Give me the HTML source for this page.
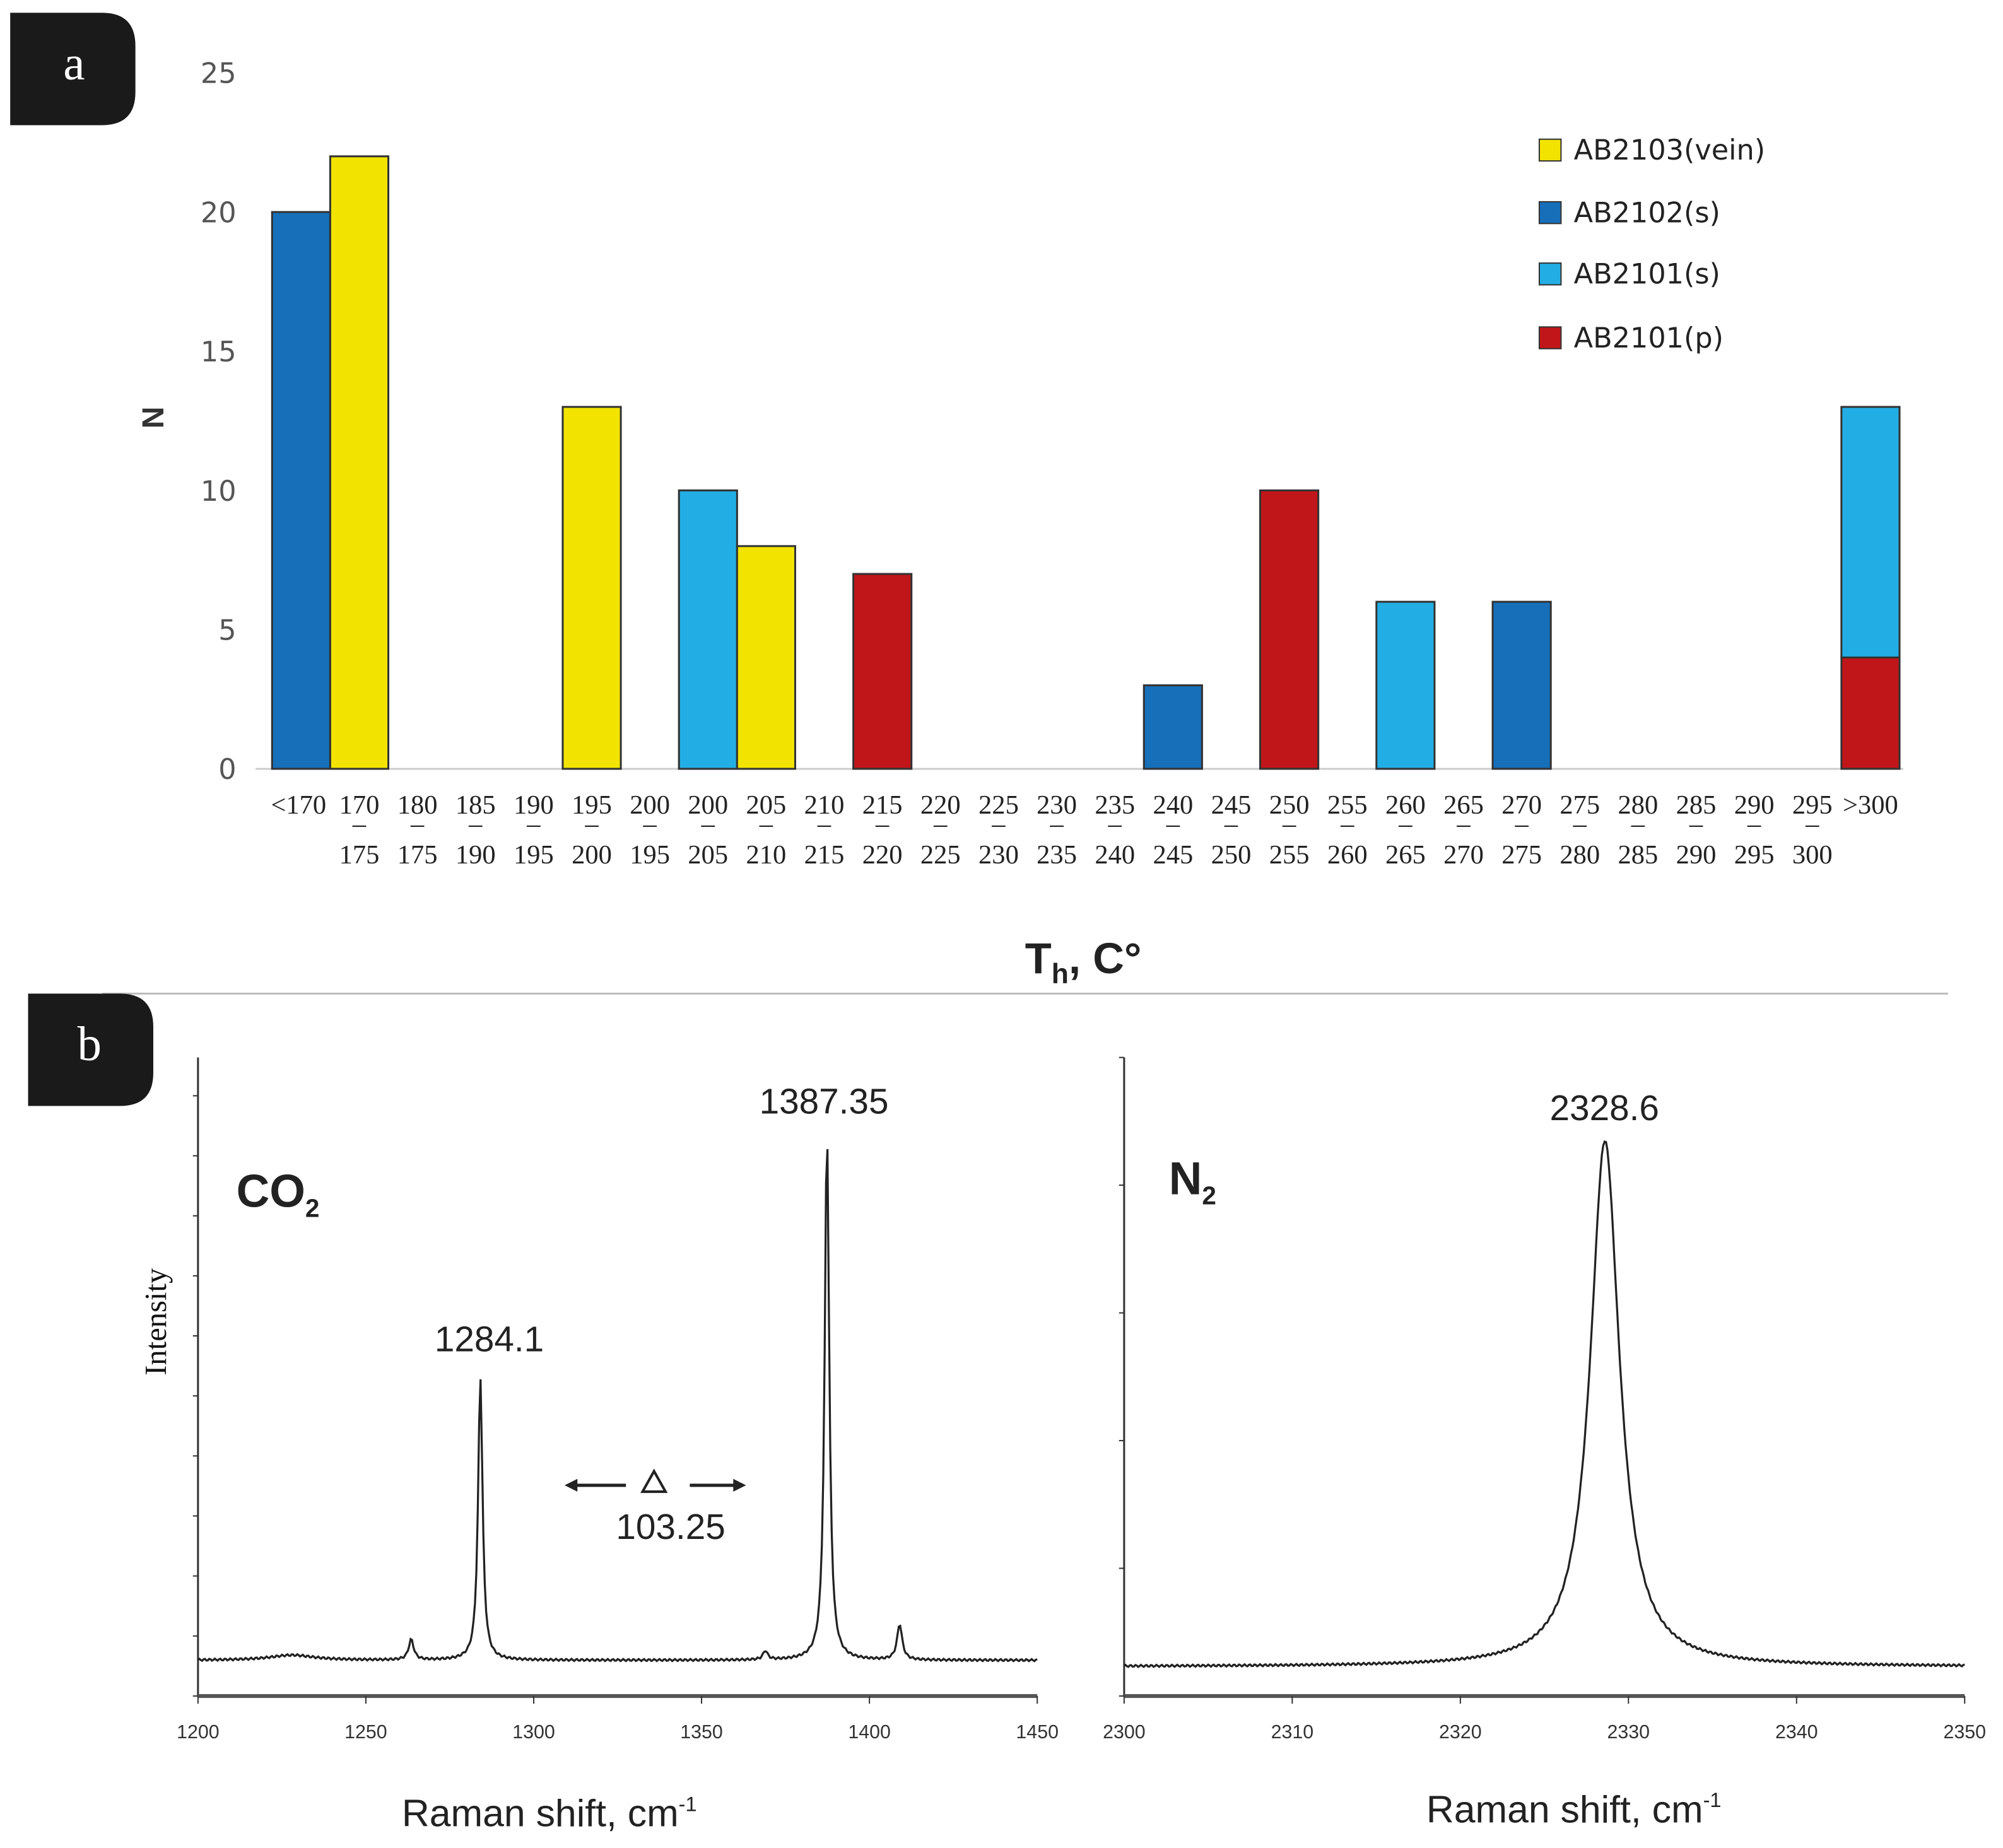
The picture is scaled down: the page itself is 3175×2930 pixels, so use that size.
<!DOCTYPE html>
<html><head><meta charset="utf-8"><style>html,body{margin:0;padding:0;background:#fff}svg{display:block}</style></head>
<body>
<svg id="fig" xmlns="http://www.w3.org/2000/svg" width="3175" height="2930" viewBox="0 0 1568 1447">
<rect width="1568" height="1447" fill="#fff"/>
<g><path d="M8 10 H80 Q106 10 106 36 V72 Q106 98 80 98 H8 Z" fill="#1a1a1a"/><text x="58" y="62" font-family="Liberation Serif,serif" font-size="38" fill="#fff" text-anchor="middle">a</text></g>
<g id="chartA"></g>
<g font-family="DejaVu Sans,sans-serif" font-size="22" fill="#222">
<g><rect x="1205" y="109" width="17" height="17" fill="#f2e400" stroke="#333"/><text x="1232" y="125">AB2103(vein)</text></g>
<g><rect x="1205" y="158" width="17" height="17" fill="#176fb9" stroke="#333"/><text x="1232" y="174">AB2102(s)</text></g>
<g><rect x="1205" y="206" width="17" height="17" fill="#22aee4" stroke="#333"/><text x="1232" y="222">AB2101(s)</text></g>
<g><rect x="1205" y="256" width="17" height="17" fill="#c0161a" stroke="#333"/><text x="1232" y="272">AB2101(p)</text></g>
</g>
<text transform="translate(128,327) rotate(-90)" text-anchor="middle" font-family="Liberation Sans,sans-serif" font-weight="bold" font-size="24" fill="#333">N</text>
<text x="848" y="762" text-anchor="middle" font-family="Liberation Sans,sans-serif" font-weight="bold" font-size="34" fill="#222">T<tspan font-size="22" dy="8">h</tspan><tspan dy="-8">, C°</tspan></text>
<line x1="80" y1="778" x2="1525" y2="778" stroke="#bbb" stroke-width="1.5"/>
<g><path d="M22 778 H94 Q120 778 120 804 V840 Q120 866 94 866 H22 Z" fill="#1a1a1a"/><text x="70" y="830" font-family="Liberation Serif,serif" font-size="38" fill="#fff" text-anchor="middle">b</text></g>
<text transform="translate(130,1035) rotate(-90)" text-anchor="middle" font-family="Liberation Serif,serif" font-size="24" fill="#111">Intensity</text>
<g id="chartB"></g>
<g id="chartC"></g>
<script>
const categories=["<170","170|175","180|175","185|190","190|195","195|200","200|195","200|205","205|210","210|215","215|220","220|225","225|230","230|235","235|240","240|245","245|250","250|255","255|260","260|265","265|270","270|275","275|280","280|285","285|290","290|295","295|300",">300"];
const vein  =[0,22,0,0,0,13,0,0,8,0,0,0,0,0,0,0,0,0,0,0,0,0,0,0,0,0,0,0];
const ab2102s=[20,0,0,0,0,0,0,0,0,0,0,0,0,0,0,3,0,0,0,0,0,6,0,0,0,0,0,0];
const ab2101s=[0,0,0,0,0,0,0,10,0,0,0,0,0,0,0,0,0,0,0,6,0,0,0,0,0,0,0,9];
const ab2101p=[0,0,0,0,0,0,0,0,0,0,7,0,0,0,0,0,0,10,0,0,0,0,0,0,0,0,0,4];
const yTicks=[0,5,10,15,20,25];
const co2Peaks=[[1263.5,16],[1284.1,222],[1369,7],[1387.35,415],[1409,28],[1228,4]];
const co2Widths=[0.9,0.8,0.8,0.8,0.9,8];
const co2Ticks=[1200,1250,1300,1350,1400,1450];
const n2Peaks=[[2328.6,412]];
const n2Widths=[1.05];
const n2Ticks=[2300,2310,2320,2330,2340,2350];
const NS="http://www.w3.org/2000/svg";
function mk(p,t,a,txt){const e=document.createElementNS(NS,t);for(const k in a)e.setAttribute(k,a[k]);if(txt!=null)e.textContent=txt;p.appendChild(e);return e;}
const A=document.getElementById('chartA');
const x0=213,slot=45.5;const ya=v=>602-v*21.8;
yTicks.forEach(t=>{const e=mk(A,'text',{x:185,y:ya(t)+8,'text-anchor':'end','font-family':'DejaVu Sans,sans-serif','font-size':22,fill:'#555'},String(t));

});
const base=mk(A,'line',{x1:200,y1:602,x2:1490,y2:602,stroke:'#ccc','stroke-width':1.5});


const series=[[ab2101p,'#c0161a'],[ab2101s,'#22aee4'],[ab2102s,'#176fb9'],[vein,'#f2e400']];
categories.forEach((c,i)=>{let acc=0;series.forEach(([arr,col])=>{const v=arr[i];if(!v)return;
const r=mk(A,'rect',{x:x0+i*slot,y:ya(acc+v),width:slot,height:v*21.8,fill:col,stroke:'#333','stroke-width':1.5});

acc+=v;});
const cx=x0+i*slot+slot/2+(i==0?-2:0);const parts=c.split('|');
const t1=mk(A,'text',{x:cx,y:637,'text-anchor':'middle','font-family':'Liberation Serif,serif','font-size':21,fill:'#222'},parts[0]);


if(parts[1]){mk(A,'text',{x:cx,y:652,'text-anchor':'middle','font-family':'Liberation Serif,serif','font-size':21,fill:'#222'},'–');
const t2=mk(A,'text',{x:cx,y:676,'text-anchor':'middle','font-family':'Liberation Serif,serif','font-size':21,fill:'#222'},parts[1]);

}});
function spectrum(G,peaks,widths,ticks,ax){
const {x1,x2,top,bot,baseY,minor}=ax;const xmin=ticks[0],xmax=ticks[ticks.length-1];
const sx=v=>x1+(v-xmin)/(xmax-xmin)*(x2-x1);
mk(G,'line',{x1:x1,y1:top,x2:x1,y2:bot,stroke:'#333','stroke-width':1.5});
mk(G,'line',{x1:x1,y1:bot,x2:x2,y2:bot,stroke:'#555','stroke-width':3});
for(let y=bot;y>=top;y-=minor)mk(G,'line',{x1:x1,y1:y,x2:x1-4,y2:y,stroke:'#333'});
ticks.forEach(t=>{mk(G,'line',{x1:sx(t),y1:bot,x2:sx(t),y2:bot+6,stroke:'#333'});
const e=mk(G,'text',{x:sx(t),y:bot+33,'text-anchor':'middle','font-family':'Liberation Sans,sans-serif','font-size':15,fill:'#333'},String(t));

});
let d='';const N=600;for(let k=0;k<=N;k++){const v=xmin+(xmax-xmin)*k/N;let h=0;
peaks.forEach((p,j)=>{const w=widths[j];h+=p[1]/(1+((v-p[0])/w)**2);});
h+=Math.sin(k*1.7)*0.8;d+=(k?'L':'M')+sx(v).toFixed(2)+' '+(baseY-h).toFixed(2);}
const p=mk(G,'path',{d:d,fill:'none',stroke:'#222','stroke-width':1.6});


return sx;}
const B=document.getElementById('chartB');
spectrum(B,co2Peaks,co2Widths,co2Ticks,{x1:155,x2:812,top:828,bot:1328,baseY:1300,minor:47});
const C=document.getElementById('chartC');
spectrum(C,n2Peaks,n2Widths,n2Ticks,{x1:880,x2:1538,top:828,bot:1328,baseY:1305,minor:100});
</script>
<g font-family="Liberation Sans,sans-serif" fill="#222">
<text x="185" y="945" font-size="36" font-weight="bold">CO<tspan font-size="20" dy="8">2</tspan></text>
<text x="383" y="1058" font-size="28" text-anchor="middle">1284.1</text>
<text x="645" y="872" font-size="28" text-anchor="middle">1387.35</text>
<g><line x1="445" y1="1163" x2="490" y2="1163" stroke="#222" stroke-width="2.5"/><path d="M442 1163 l10 -5 v10 z" fill="#222"/><line x1="540" y1="1163" x2="580" y2="1163" stroke="#222" stroke-width="2.5"/><path d="M584 1163 l-10 -5 v10 z" fill="#222"/><path d="M512 1152 L503 1168 H521 Z" fill="none" stroke="#222" stroke-width="2"/><text x="525" y="1205" font-size="28" text-anchor="middle">103.25</text></g>
<text x="430" y="1430" font-size="30" text-anchor="middle">Raman shift, cm<tspan font-size="16" dy="-12">-1</tspan></text>
<text x="915" y="935" font-size="36" font-weight="bold">N<tspan font-size="20" dy="8">2</tspan></text>
<text x="1256" y="877" font-size="28" text-anchor="middle">2328.6</text>
<text x="1232" y="1427" font-size="30" text-anchor="middle">Raman shift, cm<tspan font-size="16" dy="-12">-1</tspan></text>
</g>
</svg>
</body></html>
